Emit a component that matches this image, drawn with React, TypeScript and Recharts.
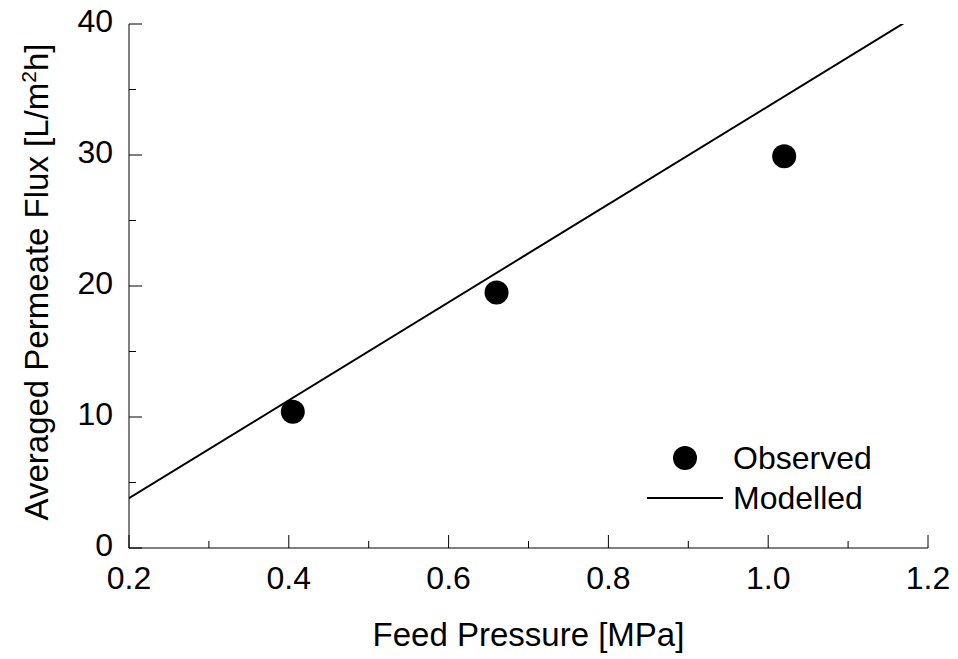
import { ComposedChart, Scatter, Line, XAxis, YAxis, Legend } from 'recharts';

const FONT = '"Liberation Sans", Arial, Helvetica, sans-serif';
const TICK_FS = 32;
const TITLE_FS = 33;

// observed flux vs feed pressure
const pressure = [0.405, 0.66, 1.02];
const flux = [10.4, 19.5, 29.9];

// model line end points (clipped at 40 by the axis)
const modelPressure = [0.2, 1.2];
const modelFlux = [3.8, 41.2];

const xTicks = [0.2, 0.3, 0.4, 0.5, 0.6, 0.7, 0.8, 0.9, 1.0, 1.1, 1.2];
const yTicks = [0, 5, 10, 15, 20, 25, 30, 35, 40];

const observed = pressure.map((x, i) => ({ x, y: flux[i] }));
const modelled = modelPressure.map((x, i) => ({ x, y: modelFlux[i] }));

const MAJOR = 13;
const MINOR = 7;

const isMajorX = (v: number) => Math.abs(v * 5 - Math.round(v * 5)) < 1e-6;
const isMajorY = (v: number) => v % 10 === 0;

function makeTick(side: 'bottom' | 'top' | 'left' | 'right', showLabel: boolean) {
  return (props: any) => {
    const { x, y, payload } = props;
    const v = payload.value as number;
    const major = side === 'bottom' || side === 'top' ? isMajorX(v) : isMajorY(v);
    const len = major ? MAJOR : MINOR;
    let line;
    if (side === 'bottom') line = <line x1={x} x2={x} y1={y} y2={y - len} stroke="#000" />;
    else if (side === 'top') line = <line x1={x} x2={x} y1={y} y2={y + len} stroke="#000" />;
    else if (side === 'left') line = <line x1={x} x2={x + len} y1={y} y2={y} stroke="#000" />;
    else line = <line x1={x} x2={x - len} y1={y} y2={y} stroke="#000" />;

    let label = null;
    if (showLabel && major) {
      if (side === 'bottom') {
        label = (
          <text x={x} y={y + 41} textAnchor="middle" fontSize={TICK_FS} fontFamily={FONT} fill="#000">
            {v.toFixed(1)}
          </text>
        );
      } else if (side === 'left') {
        label = (
          <text x={x - 16} y={y + 8} textAnchor="end" fontSize={TICK_FS} fontFamily={FONT} fill="#000">
            {v}
          </text>
        );
      }
    }
    return (
      <g>
        {line}
        {label}
      </g>
    );
  };
}

function YTitle() {
  const cx = 48;
  const cy = 282;
  return (
    <text
      x={cx}
      y={cy}
      transform={`rotate(-90, ${cx}, ${cy})`}
      textAnchor="middle"
      fontSize={TITLE_FS}
      fontFamily={FONT}
      fill="#000"
    >
      Averaged Permeate Flux [L/m
      <tspan dy={-12} fontSize={21}>2</tspan>
      <tspan dy={12} fontSize={TITLE_FS}>h]</tspan>
    </text>
  );
}

function XTitle(props: any) {
  const vb = props.viewBox || { x: 129, y: 548, width: 799, height: 111 };
  return (
    <text
      x={vb.x + vb.width / 2}
      y={646}
      textAnchor="middle"
      fontSize={TITLE_FS}
      fontFamily={FONT}
      fill="#000"
    >
      Feed Pressure [MPa]
    </text>
  );
}

function LegendBox(props: any) {
  const items = (props.payload || []) as any[];
  return (
    <svg width={290} height={100} style={{ display: 'block' }}>
      {items.map((it, i) => {
        const isLine = it.type === 'line';
        const cy = isLine ? 68 : 28;
        return (
          <g key={`leg-${i}`}>
            {isLine ? (
              <line x1={7} x2={83} y1={cy} y2={cy} stroke="#000" strokeWidth={2} />
            ) : (
              <circle cx={45} cy={cy} r={12} fill="#000" />
            )}
            <text x={93} y={cy + 11} fontSize={TICK_FS} fontFamily={FONT} fill="#000">
              {it.value}
            </text>
          </g>
        );
      })}
    </svg>
  );
}

export default function App() {
  return (
    <div style={{ width: 958, height: 659, background: '#fff' }}>
      <style>{'body{margin:0}'}</style>
      <ComposedChart width={958} height={659} margin={{ top: 24, right: 30, bottom: 0, left: 0 }}>
        <XAxis
          xAxisId="bottom"
          dataKey="x"
          type="number"
          domain={[0.2, 1.2]}
          ticks={xTicks}
          allowDataOverflow
          height={111}
          tickSize={0}
          tickMargin={0}
          tickLine={false}
          axisLine={{ stroke: '#000' }}
          tick={makeTick('bottom', true)}
          interval={0}
          label={<XTitle />}
        />
        <XAxis
          xAxisId="top"
          orientation="top"
          dataKey="x"
          type="number"
          domain={[0.2, 1.2]}
          ticks={xTicks}
          allowDataOverflow
          height={0}
          tickSize={0}
          tickMargin={0}
          tickLine={false}
          axisLine={{ stroke: '#000' }}
          tick={makeTick('top', false)}
          interval={0}
        />
        <YAxis
          yAxisId="left"
          dataKey="y"
          type="number"
          domain={[0, 40]}
          ticks={yTicks}
          allowDataOverflow
          width={129}
          tickSize={0}
          tickMargin={0}
          tickLine={false}
          axisLine={{ stroke: '#000' }}
          tick={makeTick('left', true)}
          interval={0}
          label={<YTitle />}
        />
        <YAxis
          yAxisId="right"
          orientation="right"
          dataKey="y"
          type="number"
          domain={[0, 40]}
          ticks={yTicks}
          allowDataOverflow
          width={0}
          tickSize={0}
          tickMargin={0}
          tickLine={false}
          axisLine={{ stroke: '#000' }}
          tick={makeTick('right', false)}
          interval={0}
        />
        <Scatter
          name="Observed"
          data={observed}
          xAxisId="bottom"
          yAxisId="left"
          fill="#000"
          shape={(p: any) => <circle cx={p.cx} cy={p.cy} r={12} fill="#000" />}
          isAnimationActive={false}
        />
        <Line
          name="Modelled"
          data={modelled}
          dataKey="y"
          xAxisId="bottom"
          yAxisId="left"
          stroke="#000"
          strokeWidth={2}
          dot={false}
          activeDot={false}
          type="linear"
          legendType="line"
          isAnimationActive={false}
        />
        <Legend
          layout="vertical"
          align="center"
          verticalAlign="middle"
          wrapperStyle={{ left: 640, top: 430, width: 290, height: 100 }}
          content={<LegendBox />}
        />
      </ComposedChart>
    </div>
  );
}
